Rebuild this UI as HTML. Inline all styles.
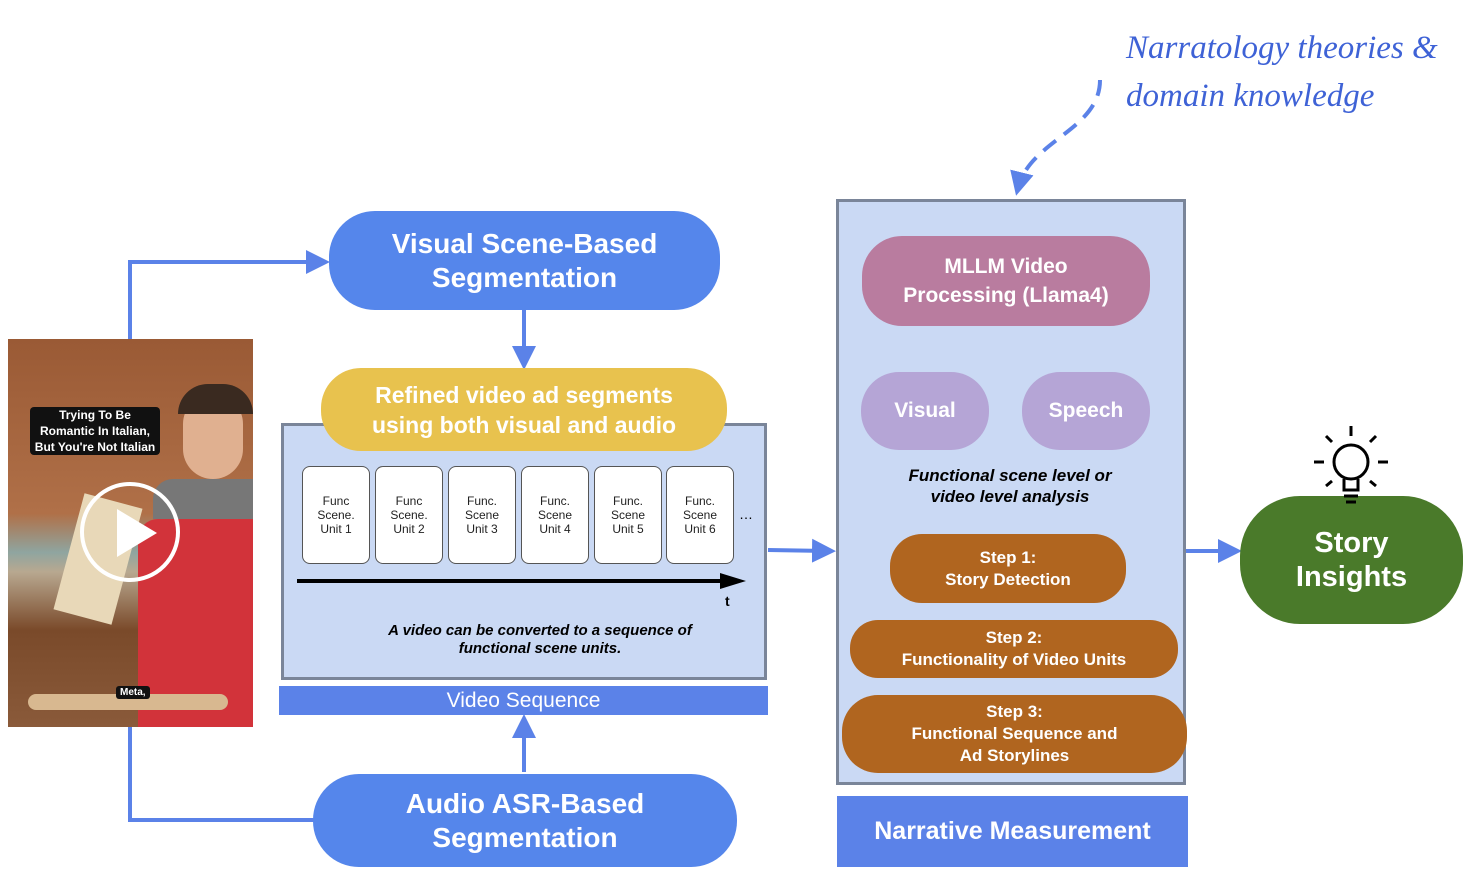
<!DOCTYPE html>
<html><head><meta charset="utf-8"><style>
body{margin:0;width:1470px;height:878px;background:#fff;position:relative;overflow:hidden;font-family:"Liberation Sans",sans-serif}
.a{position:absolute;box-sizing:border-box}
.c{display:flex;align-items:center;justify-content:center;text-align:center;color:#fff;font-weight:bold}
.u{background:#fff;border:1px solid #555;border-radius:8px;width:68px;height:98px;top:466px;font-size:12px;color:#222;line-height:14px;font-weight:normal}
</style></head><body>
<svg class="a" style="left:0;top:0" width="1470" height="878">
<defs><marker id="ar" markerWidth="6" markerHeight="6" refX="4" refY="3" orient="auto" markerUnits="strokeWidth"><path d="M0,0 L6,3 L0,6 z" fill="#5b82e8"/></marker></defs>
<path d="M130,340 V262 H322" stroke="#5b82e8" stroke-width="4" fill="none" marker-end="url(#ar)"/>
<path d="M130,727 V820 H315" stroke="#5b82e8" stroke-width="4" fill="none"/>
<path d="M524,310 V362" stroke="#5b82e8" stroke-width="4" marker-end="url(#ar)"/>
<path d="M524,772 V722" stroke="#5b82e8" stroke-width="4" marker-end="url(#ar)"/>
<path d="M768,550 L828,551" stroke="#5b82e8" stroke-width="4" marker-end="url(#ar)"/>
<path d="M1186,551 L1234,551" stroke="#5b82e8" stroke-width="4" marker-end="url(#ar)"/>
<path d="M925,372 L995,333" stroke="#5b82e8" stroke-width="3" marker-end="url(#ar)"/>
<path d="M1085,372 L1015,333" stroke="#5b82e8" stroke-width="3" marker-end="url(#ar)"/>
<path d="M1100,80 C1100,130 1030,140 1018,188" stroke="#5b82e8" stroke-width="4" fill="none" stroke-dasharray="16,10" marker-end="url(#ar)"/>
</svg>
<div class="a" style="left:1126px;top:24px;white-space:nowrap;font-family:'Liberation Serif',serif;font-style:italic;font-size:33px;color:#3e62d6;line-height:48px">Narratology theories &amp;<br>domain knowledge</div>
<div class="a" style="left:8px;top:339px;width:245px;height:388px;overflow:hidden;background:linear-gradient(180deg,#9a5a35 0%,#b07048 45%,#8fa5a0 55%,#b8a890 60%,#7a4a2a 75%,#8a5a3a 100%)">
<div class="a" style="left:130px;top:180px;width:115px;height:208px;background:#d2333a;border-radius:20px 0 0 0"></div>
<div class="a" style="left:145px;top:140px;width:100px;height:40px;background:#777;border-radius:20px 0 0 0"></div>
<div class="a" style="left:175px;top:55px;width:60px;height:85px;background:#e0b090;border-radius:30px"></div>
<div class="a" style="left:170px;top:45px;width:75px;height:30px;background:#3a2a20;border-radius:30px 30px 0 0"></div>
<div class="a" style="left:60px;top:160px;width:60px;height:120px;background:#e8d8b8;transform:rotate(15deg)"></div>
<div class="a" style="left:20px;top:355px;width:200px;height:16px;background:#d8b890;border-radius:8px"></div>
<div class="a c" style="left:22px;top:68px;width:130px;font-size:12px;line-height:16px;background:#111;border-radius:4px">Trying To Be<br>Romantic In Italian,<br>But You're Not Italian</div>
<div class="a" style="left:72px;top:143px;width:100px;height:100px;border:4px solid #fff;border-radius:50%"></div>
<div class="a" style="left:109px;top:170px;width:0;height:0;border-left:40px solid #fff;border-top:24px solid transparent;border-bottom:24px solid transparent"></div>
<div class="a c" style="left:108px;top:347px;font-size:10px;background:#111;border-radius:3px;padding:1px 4px">Meta,</div>
</div>
<div class="a c" style="left:329px;top:211px;width:391px;height:99px;background:#5586eb;border-radius:46px;font-size:28px;line-height:34px">Visual Scene-Based<br>Segmentation</div>
<div class="a" style="left:281px;top:423px;width:486px;height:257px;background:#cad9f4;border:3px solid #7a8599"></div>
<div class="a c" style="left:321px;top:368px;width:406px;height:83px;background:#e8c24e;border-radius:40px;font-size:23px;line-height:30px">Refined video ad segments<br>using both visual and audio</div>
<div class="a c u" style="left:302px">Func<br>Scene.<br>Unit 1</div>
<div class="a c u" style="left:375px">Func<br>Scene.<br>Unit 2</div>
<div class="a c u" style="left:448px">Func.<br>Scene<br>Unit 3</div>
<div class="a c u" style="left:521px">Func.<br>Scene<br>Unit 4</div>
<div class="a c u" style="left:594px">Func.<br>Scene<br>Unit 5</div>
<div class="a c u" style="left:666px">Func.<br>Scene<br>Unit 6</div>
<div class="a" style="left:739px;top:506px;font-size:14px">…</div>
<div class="a" style="left:297px;top:579px;width:425px;height:4px;background:#000"></div>
<div class="a" style="left:720px;top:573px;border-left:26px solid #000;border-top:8px solid transparent;border-bottom:8px solid transparent"></div>
<div class="a" style="left:725px;top:593px;font-size:14px;font-weight:bold">t</div>
<div class="a" style="left:300px;top:622px;width:480px;text-align:center;font-size:15px;font-style:italic;font-weight:bold;line-height:18px">A video can be converted to a sequence of<br>functional scene units.</div>
<div class="a c" style="left:279px;top:686px;width:489px;height:29px;background:#5b82e8;font-weight:normal;font-size:21px">Video Sequence</div>
<div class="a c" style="left:313px;top:774px;width:424px;height:93px;background:#5586eb;border-radius:46px;font-size:28px;line-height:34px">Audio ASR-Based<br>Segmentation</div>
<div class="a" style="left:836px;top:199px;width:350px;height:586px;background:#cad9f4;border:3px solid #7a8599"></div>
<div class="a c" style="left:862px;top:236px;width:288px;height:90px;background:#b97c9f;border-radius:40px;font-size:21px;line-height:29px">MLLM Video<br>Processing (Llama4)</div>
<div class="a c" style="left:861px;top:372px;width:128px;height:78px;background:#b5a5d6;border-radius:38px;font-size:21px">Visual</div>
<div class="a c" style="left:1022px;top:372px;width:128px;height:78px;background:#b5a5d6;border-radius:38px;font-size:21px">Speech</div>
<div class="a" style="left:870px;top:465px;width:280px;text-align:center;font-size:17px;font-style:italic;font-weight:bold;line-height:21px">Functional scene level or<br>video level  analysis</div>
<div class="a c" style="left:890px;top:534px;width:236px;height:69px;background:#b0651f;border-radius:32px;font-size:17px;line-height:22px">Step 1:<br>Story Detection</div>
<div class="a c" style="left:850px;top:620px;width:328px;height:58px;background:#b0651f;border-radius:28px;font-size:17px;line-height:22px">Step 2:<br>Functionality of Video Units</div>
<div class="a c" style="left:842px;top:695px;width:345px;height:78px;background:#b0651f;border-radius:36px;font-size:17px;line-height:22px">Step 3:<br>Functional Sequence and<br>Ad Storylines</div>
<div class="a c" style="left:837px;top:796px;width:351px;height:71px;background:#5b82e8;font-size:25px">Narrative Measurement</div>
<div class="a c" style="left:1240px;top:496px;width:223px;height:128px;background:#4a7a2a;border-radius:60px;font-size:29px;line-height:34px">Story<br>Insights</div>
<svg class="a" style="left:1312px;top:424px" width="78" height="88"><g stroke="#000" stroke-width="3" fill="none"><circle cx="39" cy="38" r="17"/><path d="M32,55 V66 H46 V55 M32,72 H46 M34,78 H44"/><path d="M39,2 V12 M14,12 L20,18 M64,12 L58,18 M2,38 H12 M66,38 H76 M14,62 L20,57 M64,62 L58,57"/></g></svg>
</body></html>
